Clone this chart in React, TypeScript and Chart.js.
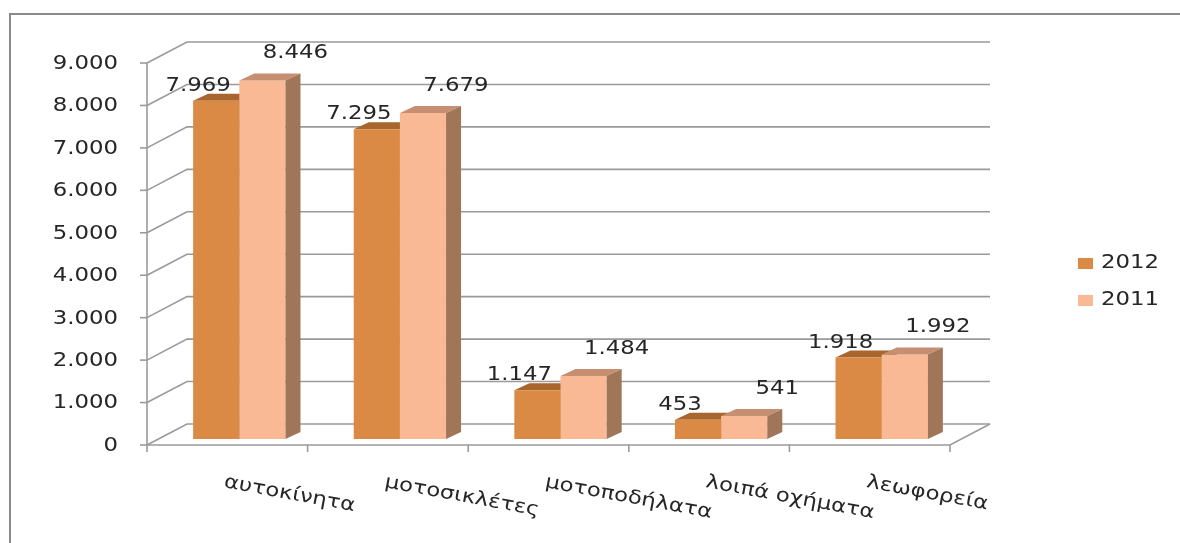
import React, { useEffect, useRef } from "react";
import { Chart, registerables } from "chart.js";

Chart.register(...registerables);

const categories = ["αυτοκίνητα", "μοτοσικλέτες", "μοτοποδήλατα", "λοιπά οχήματα", "λεωφορεία"];
const seriesNames = ["2012", "2011"];
const values2012 = [7969, 7295, 1147, 453, 1918];
const values2011 = [8446, 7679, 1484, 541, 1992];
const yTicks = [0, 1000, 2000, 3000, 4000, 5000, 6000, 7000, 8000, 9000];

const W = 1180;
const H = 543;
const FONT = '19px "DejaVu Sans"';
const SX = 1.2; // horizontal text stretch
const TEXT = "#262626";
const GRID = "#9a9a9a";
const BORDER = "#8a8a8a";
const WALL_DX = 40;
const WALL_DY = -21;
const BAR_DX = 12;
const BAR_DY = -6;
const DEPTH_DX = 15;
const DEPTH_DY = -7;

const FRONT = ["#DB8A45", "#F9B995"];
const TOP = ["#A9652E", "#C68F72"];
const SIDE = ["#9C5A26", "#A07659"];
const LABEL_OFF = [
  { dx: -18, dy: -15 },
  { dx: 33, dy: -27 },
];

function fmt(n: number): string {
  if (n < 1000) return String(n);
  return `${Math.floor(n / 1000)}.${String(n % 1000).padStart(3, "0")}`;
}

function drawText(
  ctx: CanvasRenderingContext2D,
  text: string,
  x: number,
  y: number,
  align: CanvasTextAlign,
  baseline: CanvasTextBaseline,
  angle = 0
) {
  ctx.save();
  ctx.translate(x, y);
  if (angle) ctx.rotate(angle);
  ctx.scale(SX, 1);
  ctx.font = FONT;
  ctx.fillStyle = TEXT;
  ctx.textAlign = align;
  ctx.textBaseline = baseline;
  ctx.fillText(text, 0, 0);
  ctx.restore();
}

function poly(ctx: CanvasRenderingContext2D, pts: number[][], color: string) {
  ctx.beginPath();
  ctx.moveTo(pts[0][0], pts[0][1]);
  for (let i = 1; i < pts.length; i++) ctx.lineTo(pts[i][0], pts[i][1]);
  ctx.closePath();
  ctx.fillStyle = color;
  ctx.fill();
}

function barGeom(el: any) {
  const p = el.getProps(["x", "y", "base", "width"], true);
  return { x0: p.x - p.width / 2, x1: p.x + p.width / 2, top: p.y, base: p.base };
}

const threeD = {
  id: "threeD",
  beforeDatasetsDraw(chart: any) {
    const { ctx, chartArea, scales } = chart;
    const { left, right, bottom } = chartArea;
    const x = scales.x;
    const y = scales.y;
    ctx.save();
    // outer frame
    ctx.fillStyle = BORDER;
    ctx.fillRect(9, 13, W - 9, 2);
    ctx.fillRect(9, 13, 2, H - 13);

    ctx.strokeStyle = GRID;
    ctx.lineWidth = 1.6;
    // side and back wall gridlines
    yTicks.forEach((v) => {
      const py = y.getPixelForValue(v);
      ctx.beginPath();
      ctx.moveTo(left, py);
      ctx.lineTo(left + WALL_DX, py + WALL_DY);
      ctx.lineTo(right + WALL_DX, py + WALL_DY);
      ctx.stroke();
      ctx.beginPath();
      ctx.moveTo(left - 7, py);
      ctx.lineTo(left, py);
      ctx.stroke();
    });
    // front vertical axis
    ctx.beginPath();
    ctx.moveTo(left, y.getPixelForValue(yTicks[yTicks.length - 1]));
    ctx.lineTo(left, bottom);
    ctx.stroke();
    // floor front edge
    ctx.beginPath();
    ctx.moveTo(left, bottom);
    ctx.lineTo(right, bottom);
    ctx.lineTo(right + WALL_DX, bottom + WALL_DY);
    ctx.stroke();
    // category tick marks
    const half = (x.getPixelForValue(1) - x.getPixelForValue(0)) / 2;
    for (let i = 0; i <= categories.length; i++) {
      const px = x.getPixelForValue(i) - half;
      ctx.beginPath();
      ctx.moveTo(px, bottom);
      ctx.lineTo(px, bottom + 7);
      ctx.stroke();
    }
    // y tick labels
    yTicks.forEach((v) => {
      drawText(ctx, fmt(v), left - 29, y.getPixelForValue(v) + 1, "right", "middle");
    });
    ctx.restore();

    // translated drawing for bars
    ctx.save();
    ctx.translate(BAR_DX, BAR_DY);
    const meta0 = chart.getDatasetMeta(0);
    meta0.data.forEach((el: any) => {
      const g = barGeom(el);
      poly(
        ctx,
        [
          [g.x0, g.top],
          [g.x1, g.top],
          [g.x1 + DEPTH_DX, g.top + DEPTH_DY],
          [g.x0 + DEPTH_DX, g.top + DEPTH_DY],
        ],
        TOP[0]
      );
      poly(
        ctx,
        [
          [g.x1, g.top],
          [g.x1 + DEPTH_DX, g.top + DEPTH_DY],
          [g.x1 + DEPTH_DX, g.base + DEPTH_DY],
          [g.x1, g.base],
        ],
        SIDE[0]
      );
    });
  },
  afterDatasetsDraw(chart: any) {
    const { ctx, chartArea, scales } = chart;
    const x = scales.x;
    const meta1 = chart.getDatasetMeta(1);
    meta1.data.forEach((el: any) => {
      const g = barGeom(el);
      poly(
        ctx,
        [
          [g.x0, g.top],
          [g.x1, g.top],
          [g.x1 + DEPTH_DX, g.top + DEPTH_DY],
          [g.x0 + DEPTH_DX, g.top + DEPTH_DY],
        ],
        TOP[1]
      );
      poly(
        ctx,
        [
          [g.x1, g.top],
          [g.x1 + DEPTH_DX, g.top + DEPTH_DY],
          [g.x1 + DEPTH_DX, g.base + DEPTH_DY],
          [g.x1, g.base],
        ],
        SIDE[1]
      );
    });
    ctx.restore();

    // data labels
    [0, 1].forEach((di) => {
      const meta = chart.getDatasetMeta(di);
      const vals = chart.data.datasets[di].data as number[];
      meta.data.forEach((el: any, i: number) => {
        const p = el.getProps(["x", "y"], true);
        drawText(
          ctx,
          fmt(vals[i]),
          p.x + BAR_DX + LABEL_OFF[di].dx,
          p.y + BAR_DY + LABEL_OFF[di].dy,
          "center",
          "middle"
        );
      });
    });

    // category labels (rotated)
    const half = (x.getPixelForValue(1) - x.getPixelForValue(0)) / 2;
    categories.forEach((c, i) => {
      const px = x.getPixelForValue(i) - 4;
      drawText(ctx, c, px, chartArea.bottom + 42, "left", "alphabetic", (10.5 * Math.PI) / 180);
    });
    void half;

    // legend
    seriesNames.forEach((s, i) => {
      const cy = 263.5 + i * 37;
      ctx.fillStyle = FRONT[i];
      ctx.fillRect(1078, cy - 5.5, 15, 11);
      drawText(ctx, s, 1101, cy, "left", "middle");
    });
  },
};

export default function App() {
  const ref = useRef<HTMLCanvasElement | null>(null);
  useEffect(() => {
    if (!ref.current) return;
    const chart = new Chart(ref.current, {
      type: "bar",
      data: {
        labels: categories,
        datasets: [
          { label: seriesNames[0], data: values2012, backgroundColor: FRONT[0], borderWidth: 0 },
          { label: seriesNames[1], data: values2011, backgroundColor: FRONT[1], borderWidth: 0 },
        ],
      },
      options: {
        responsive: false,
        animation: false,
        layout: { padding: { left: 147, right: W - 950, top: 63, bottom: H - 445 } },
        datasets: { bar: { categoryPercentage: 0.575, barPercentage: 1, clip: false as any } },
        plugins: { legend: { display: false }, tooltip: { enabled: false }, title: { display: false } },
        scales: {
          x: { display: false },
          y: { display: false, min: 0, max: yTicks[yTicks.length - 1] },
        },
      },
      plugins: [threeD],
    });
    return () => chart.destroy();
  }, []);
  return (
    <div style={{ position: "absolute", left: 0, top: 0, width: W, height: H, background: "#fff" }}>
      <canvas ref={ref} width={W} height={H} style={{ display: "block" }} />
    </div>
  );
}
